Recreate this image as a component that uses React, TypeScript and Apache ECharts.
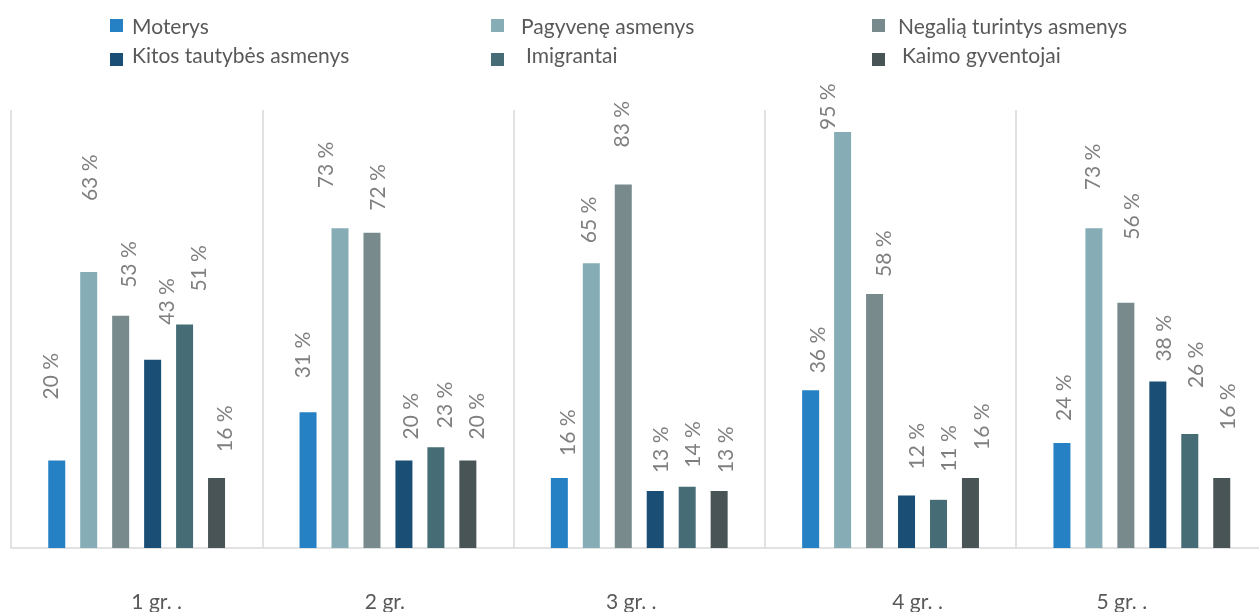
import React, { useEffect, useRef } from 'react';
import * as echarts from 'echarts';

const categories = ['1 gr. .', '2 gr.', '3 gr. .', '4 gr. .', '5 gr. .'];
const seriesNames = [
  'Moterys',
  'Pagyvenę asmenys',
  'Negalią turintys asmenys',
  'Kitos tautybės asmenys',
  'Imigrantai',
  'Kaimo gyventojai',
];
const moterys = [20, 31, 16, 36, 24];
const pagyvene = [63, 73, 65, 95, 73];
const negalia = [53, 72, 83, 58, 56];
const kitos = [43, 20, 13, 12, 38];
const imigrantai = [51, 23, 14, 11, 26];
const kaimo = [16, 20, 13, 16, 16];

const colors = ['#2581c4', '#86acb5', '#798a8d', '#1a4e74', '#466d75', '#485456'];

// label placement (style only): gap above bar and sideways shift
const labelGaps = [
  [62, 35, 23, 18, 23],
  [72, 41, 21, 3, 39],
  [29, 23, 38, 18, 64],
  [36, 22, 19, 27, 21],
  [34, 20, 20, 29, 47],
  [27, 22, 19, 29, 49],
];
const labelShifts = [
  [-7, -7, 7, 6, 1],
  [0, -16, -4, -16, -2],
  [7, 5, -3, 8, 5],
  [13, 6, 4, 9, 5],
  [13, 8, 4, 9, 5],
  [7, 8, 5, 10, 5],
];
const categoryLabelShifts = [20, -3, -8, 27, -20];

const FONT = 'Lato, "Noto Sans", sans-serif';

export default function App() {
  const ref = useRef<HTMLDivElement>(null);
  useEffect(() => {
    const chart = echarts.init(ref.current!, null, { renderer: 'svg' });
    const seriesValues = [moterys, pagyvene, negalia, kitos, imigrantai, kaimo];

    const colLefts = [110, 491, 872];
    const textPadLeft = [4, 12, 8, 4, 17, 12];
    const legends = seriesNames.map((name, i) => {
      const row = Math.floor(i / 3);
      const col = i % 3;
      return {
        show: true,
        data: [name],
        left: colLefts[col],
        top: row === 0 ? 15 : 44,
        padding: 0,
        icon: 'rect',
        itemWidth: 13,
        itemHeight: 13,
        selectedMode: false,
        formatter: (n: string) => `{t|${n}}`,
        textStyle: {
          fontSize: 21,
          fontFamily: FONT,
          color: '#595959',
          rich: {
            t: {
              fontSize: 21,
              fontFamily: FONT,
              color: '#595959',
              lineHeight: 24,
              padding: row === 0 ? [0, 0, 0, textPadLeft[i]] : [0, 0, 10, textPadLeft[i]],
            },
          },
        },
      };
    });

    const rich: Record<string, any> = {};
    categoryLabelShifts.forEach((s, i) => {
      rich['c' + i] = {
        fontSize: 21,
        fontFamily: FONT,
        color: '#595959',
        padding: s >= 0 ? [0, 0, 0, 2 * s] : [0, -2 * s, 0, 0],
      };
    });

    chart.setOption({
      animation: false,
      color: colors,
      legend: legends,
      grid: { left: 11, top: 110, width: 1256.5, height: 438 },
      xAxis: {
        type: 'category',
        data: categories,
        axisLine: { lineStyle: { color: '#d9d9d9', width: 1.5 } },
        axisTick: { show: false },
        splitLine: { show: true, interval: 0, lineStyle: { color: '#d9d9d9', width: 1.5 } },
        axisLabel: {
          interval: 0,
          margin: 42,
          fontSize: 21,
          fontFamily: FONT,
          color: '#595959',
          formatter: (v: string, idx: number) => `{c${idx}|${v}}`,
          rich,
        },
      },
      yAxis: { type: 'value', min: 0, max: 100, show: false },
      series: seriesNames.map((name, i) => ({
        name,
        type: 'bar',
        barWidth: 17,
        barGap: '88%',
        itemStyle: { color: colors[i] },
        label: {
          show: true,
          position: 'top',
          rotate: 90,
          align: 'left',
          verticalAlign: 'middle',
          formatter: '{c} %',
          fontSize: 21,
          fontFamily: FONT,
          color: '#7f7f7f',
        },
        data: seriesValues[i].map((v, j) => ({
          value: v,
          label: { distance: labelGaps[i][j] - 1, offset: [0, labelShifts[i][j]] },
        })),
      })),
    });
    return () => chart.dispose();
  }, []);
  return (
    <div style={{ position: 'fixed', left: 0, top: 0, width: 1259, height: 612, overflow: 'hidden' }}>
      <div ref={ref} style={{ width: 1280, height: 612 }} />
    </div>
  );
}
